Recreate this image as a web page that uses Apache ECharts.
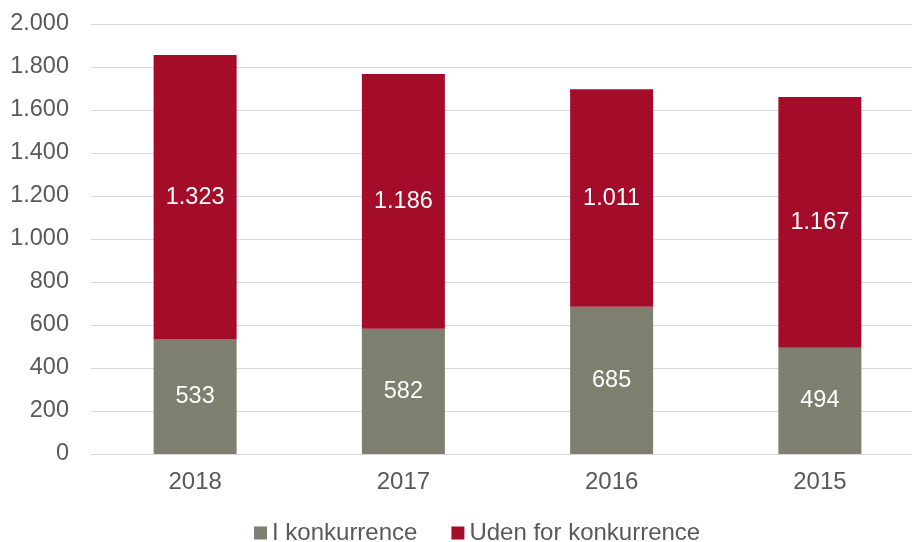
<!DOCTYPE html>
<html>
<head>
<meta charset="utf-8">
<script src="https://cdn.jsdelivr.net/npm/echarts@6/dist/echarts.min.js"></script>
<style>
  html, body { margin: 0; padding: 0; background: #fff; }
  #chart { width: 912px; height: 542px; }
</style>
</head>
<body>
<div id="chart"></div>
<script>
const years = ['2018', '2017', '2016', '2015'];
const iKonkurrence = [533, 582, 685, 494];
const udenForKonkurrence = [1323, 1186, 1011, 1167];

// dansk tusindtalsseparator
function fmt (v) {
  return String(v).replace(/\B(?=(\d{3})+(?!\d))/g, '.');
}

const chart = echarts.init(document.getElementById('chart'));

const labelStyle = {
  show: true,
  position: 'inside',
  color: '#fff',
  fontSize: 23.5,
  fontFamily: 'Liberation Sans, Arial, sans-serif',
  formatter: (p) => fmt(p.value)
};

const option = {
  animation: false,
  textStyle: { fontFamily: 'Liberation Sans, Arial, sans-serif' },
  grid: {
    left: 91, top: 24, width: 833, height: 430,
    containLabel: false,
    outerBoundsMode: 'none'
  },
  legend: {
    top: 516,
    left: 249,
    itemWidth: 13,
    itemHeight: 13,
    itemGap: 34,
    icon: 'rect',
    textStyle: { fontSize: 24, color: '#595959' },
    data: ['I konkurrence', 'Uden for konkurrence']
  },
  xAxis: {
    type: 'category',
    data: years,
    axisTick: { show: false },
    axisLine: { lineStyle: { color: '#d9d9d9', width: 1 } },
    axisLabel: { fontSize: 24, color: '#595959', margin: 16 }
  },
  yAxis: {
    type: 'value',
    min: 0,
    max: 2000,
    interval: 200,
    axisLine: { show: false },
    axisTick: { show: false },
    splitLine: { lineStyle: { color: '#d9d9d9', width: 1 } },
    axisLabel: {
      fontSize: 23.5,
      color: '#595959',
      margin: 22,
      formatter: (v) => fmt(v)
    }
  },
  series: [
    {
      name: 'I konkurrence',
      type: 'bar',
      stack: 'total',
      barWidth: 83,
      itemStyle: { color: '#7f7f6f' },
      label: labelStyle,
      data: iKonkurrence
    },
    {
      name: 'Uden for konkurrence',
      type: 'bar',
      stack: 'total',
      barWidth: 83,
      itemStyle: { color: '#a30d2a' },
      label: labelStyle,
      data: udenForKonkurrence
    }
  ]
};

chart.setOption(option);
window.onresize = () => { chart.resize() };
</script>
</body>
</html>
